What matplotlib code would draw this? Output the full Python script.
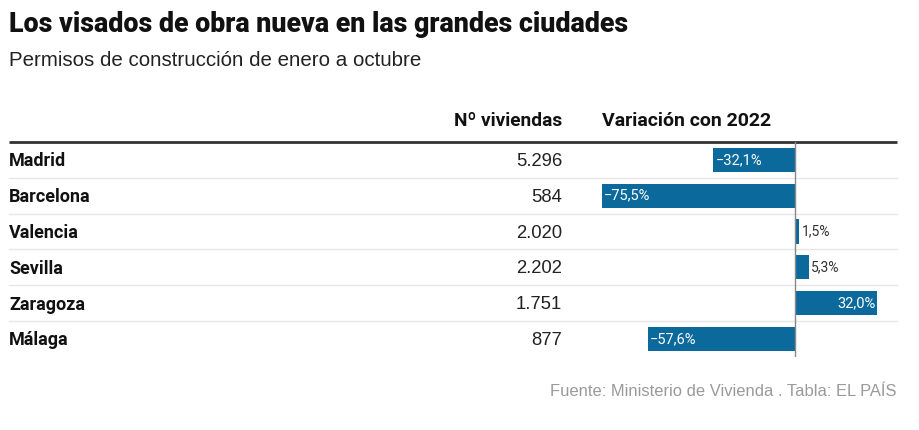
import matplotlib
matplotlib.use('Agg')
import matplotlib.pyplot as plt

ciudades = ['Madrid', 'Barcelona', 'Valencia', 'Sevilla', 'Zaragoza', 'Málaga']
viviendas = ['5.296', '584', '2.020', '2.202', '1.751', '877']
variacion = [-32.1, -75.5, 1.5, 5.3, 32.0, -57.6]

W, H = 920, 430
azul = '#0b6a9b'
plt.rcParams['font.family'] = ['Roboto', 'DejaVu Sans']
fino = ['Liberation Sans', 'DejaVu Sans']

fig = plt.figure(figsize=(W / 100, H / 100), dpi=100)

# capa de fondo en pixeles para textos y lineas
bg = fig.add_axes([0, 0, 1, 1])
bg.set_xlim(0, W)
bg.set_ylim(H, 0)
bg.axis('off')

bg.text(9, 25, 'Los visados de obra nueva en las grandes ciudades',
        fontsize=19.3, fontweight=900, color='#111111', va='center')
bg.text(9, 61, 'Permisos de construcción de enero a octubre',
        fontsize=14.8, color='#222222', va='center', family=fino)

bg.text(562, 121, 'Nº viviendas', fontsize=13.8, fontweight='bold',
        color='#111111', ha='right', va='center')
bg.text(602, 121, 'Variación con 2022', fontsize=14, fontweight='bold',
        color='#111111', ha='left', va='center')

top, row_h = 142, 35.8
bg.plot([9, 897], [top, top], color='#333333', lw=2, solid_capstyle='butt')
for i, (c, v) in enumerate(zip(ciudades, viviendas)):
    y = top + (i + 0.5) * row_h + 1.5
    bg.text(9, y, c, fontsize=13, fontweight='bold', color='#111111', va='center')
    bg.text(562, y, v, fontsize=13.3, color='#222222', ha='right', va='center', family=fino)
    if i < len(ciudades) - 1:
        yl = top + (i + 1) * row_h
        bg.plot([9, 897], [yl, yl], color='#e6e6e6', lw=1)

bg.text(897, 391, 'Fuente: Ministerio de Vivienda . Tabla: EL PAÍS',
        fontsize=11.9, color='#9a9a9a', ha='right', va='center', family=fino)

# barras de variacion
x0, x1 = 590, 897
zero, ppp = 795.5, 2.56
ax = fig.add_axes([x0 / W, 1 - (top + 6 * row_h) / H, (x1 - x0) / W, 6 * row_h / H])
ax.set_xlim((x0 - zero) / ppp, (x1 - zero) / ppp)
ax.set_ylim(5.5, -0.5)
ax.axis('off')
ax.patch.set_alpha(0)

ypos = list(range(len(ciudades)))
ax.barh(ypos, variacion, height=0.68, color=azul)
ax.axvline(0, color='#888888', lw=1)

for y, v in zip(ypos, variacion):
    lab = f'{abs(v):.1f}%'.replace('.', ',')
    if v < 0:
        lab = '\u2212' + lab
        ax.text(v + 0.8, y, lab, color='white', fontsize=10.5, ha='left', va='center')
    elif v > 15:
        ax.text(v - 0.8, y, lab, color='white', fontsize=10.5, ha='right', va='center')
    else:
        ax.text(v + 0.8, y, lab, color='#333333', fontsize=10, ha='left', va='center')

fig.savefig('out.png', dpi=100)
